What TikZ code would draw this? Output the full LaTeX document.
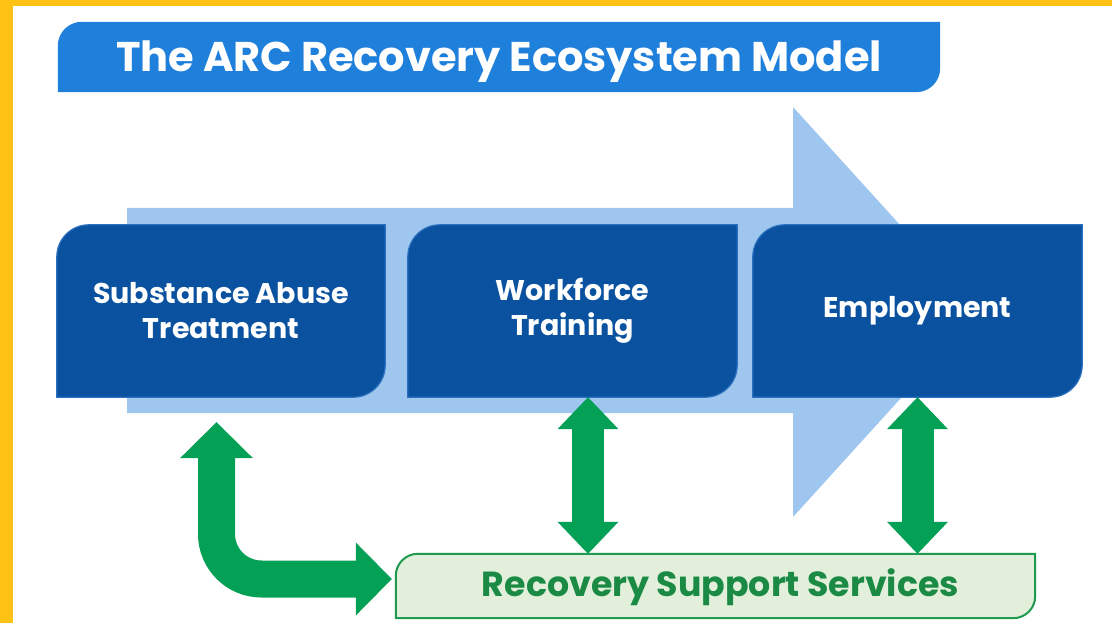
\documentclass[tikz,border=0pt]{standalone}
\usepackage{fontspec}
\setmainfont{Poppins}
\usetikzlibrary{arrows.meta,backgrounds}
\definecolor{ygold}{HTML}{FFC214}
\definecolor{titleblue}{HTML}{1F80DC}
\definecolor{darkblue}{HTML}{0A52A0}
\definecolor{edgeblue}{HTML}{2A6FC0}
\definecolor{lightblue}{HTML}{9EC6EE}
\definecolor{grn}{HTML}{04A056}
\definecolor{rssfill}{HTML}{E2F0DB}
\definecolor{rssedge}{HTML}{1E9A50}
\definecolor{rsstext}{HTML}{1A8A45}
\newcommand\tlbrshape[3]{\path[#1] (#2.south west) -- ([yshift=-#3]#2.north west) arc[start angle=180,end angle=90,radius=#3] -- (#2.north east) -- ([yshift=#3]#2.south east) arc[start angle=0,end angle=-90,radius=#3] -- cycle;}
\begin{document}
\begin{tikzpicture}[x=1pt,y=-1pt,
  boxtext/.style={rectangle, inner sep=0pt, text=white, font=\bfseries\fontsize{28.5}{35}\selectfont, align=center, minimum height=172pt, minimum width=329pt},
  boxfill/.style={fill=darkblue, draw=edgeblue, line width=1.2pt},
  garrow/.style={draw=grn, line width=32pt, {Triangle[width=61pt,length=32pt,line width=0pt]}-{Triangle[width=61pt,length=32pt,line width=0pt]}},
  larrow/.style={draw=grn, line width=37pt, rounded corners=45pt, {Triangle[width=73pt,length=36pt,line width=0pt]}-{Triangle[width=73pt,length=36pt,line width=0pt]}}]
\useasboundingbox (0,0) rectangle (1112,623);
% nodes
\node[inner sep=0pt, minimum width=882pt, minimum height=70pt] (title) at (499,57) {};
\node[inner sep=0pt, text=white, font=\bfseries\fontsize{41.5}{48}\selectfont] (titletext) at ([yshift=-5pt]title.center) {The ARC Recovery Ecosystem Model};
\node[boxtext, minimum width=328pt] (sat) at (221,311) {Substance Abuse\\Treatment};
\node[boxtext] (wt) at (572.5,311) {Workforce\\Training};
\node[boxtext] (emp) at (917.5,311) {Employment};
\node[inner sep=0pt, minimum width=639pt, minimum height=64pt] (rss) at (715.5,586) {};
\node[inner sep=0pt, text=rsstext, font=\bfseries\fontsize{34.8}{40}\selectfont] (rsstext) at ([xshift=5pt,yshift=-1pt]rss.center) {Recovery Support Services};
\begin{pgfonlayer}{background}
  \fill[white] (0,0) rectangle (1112,623);
  \fill[ygold] (0,0) rectangle (13,623);
  \fill[ygold] (0,0) rectangle (1112,6);
  \tlbrshape{fill=titleblue}{title}{24pt}
  \fill[lightblue] (127,208) -- (793,208) -- (793,107) -- (979,312) -- (793,517) -- (793,413) -- (127,413) -- cycle;
  \tlbrshape{boxfill}{sat}{32pt}
  \tlbrshape{boxfill}{wt}{32pt}
  \tlbrshape{boxfill}{emp}{32pt}
\end{pgfonlayer}
% green connectors
\draw[garrow] ([xshift=15.5pt]wt.south) -- ([xshift=15.5pt]wt.south |- rss.north);
\draw[garrow] (emp.south) -- (emp.south |- rss.north);
\draw[larrow] ([xshift=-4.5pt,yshift=-25pt]sat.south) |- ([xshift=-4pt,yshift=7pt]rss.west);
\begin{pgfonlayer}{background}
  \tlbrshape{fill=rssfill, draw=rssedge, line width=2pt}{rss}{22pt}
\end{pgfonlayer}
\end{tikzpicture}
\end{document}
